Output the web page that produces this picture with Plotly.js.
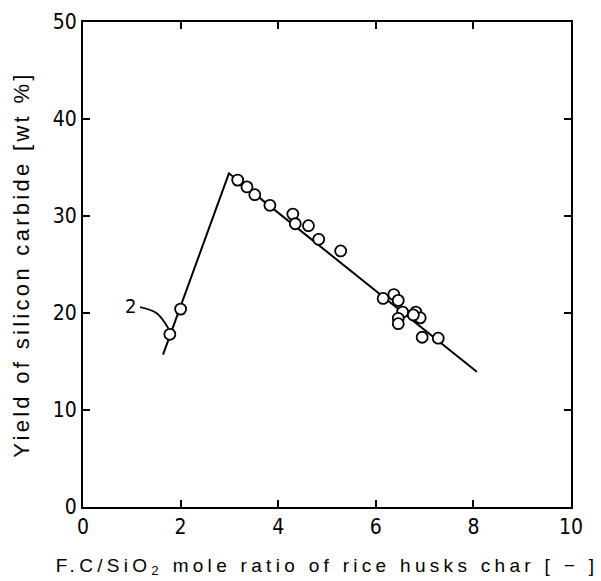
<!DOCTYPE html>
<html>
<head>
<meta charset="utf-8">
<script src="https://cdn.plot.ly/plotly-3.0.1.min.js"></script>
<style>
html, body { margin: 0; padding: 0; background: #fff; }
#chart { width: 601px; height: 581px; }
.xtitle { letter-spacing: 4.3px; }
.ytitle { letter-spacing: 3.3px; }
</style>
</head>
<body>
<div id="chart"></div>
<script>
// Fitted lines
var lineX = [1.64, 2.99, 8.07];
var lineY = [15.7, 34.4, 13.95];

// Measured points
var pointX = [1.78, 2.00, 3.17, 3.36, 3.52, 3.83, 4.30, 4.35, 4.62, 4.83, 5.28,
              6.15, 6.37, 6.46, 6.55, 6.46, 6.46, 6.82, 6.91, 6.77, 6.95, 7.28];
var pointY = [17.8, 20.4, 33.7, 33.0, 32.2, 31.1, 30.2, 29.2, 29.0, 27.6, 26.4,
              21.5, 21.9, 21.3, 20.1, 19.45, 18.9, 20.1, 19.5, 19.8, 17.5, 17.4];

// Leader curve for label "2"
var leaderX = [1.17, 1.51, 1.75];
var leaderY = [20.6, 19.97, 18.4];
var labelText = "2";
var labelX = 0.98, labelY = 20.7;

var xTicks = [0, 2, 4, 6, 8, 10];
var yTicks = [0, 10, 20, 30, 40, 50];

var tickFont = {family: "Liberation Sans Narrow, DejaVu Sans Condensed, Liberation Sans, sans-serif", size: 21, color: "#000"};

var traces = [
  {x: lineX, y: lineY, mode: "lines", line: {color: "#000", width: 2}, hoverinfo: "skip", showlegend: false},
  {x: leaderX, y: leaderY, mode: "lines", line: {color: "#000", width: 1.8, shape: "spline"}, hoverinfo: "skip", showlegend: false},
  {x: pointX, y: pointY, mode: "markers", marker: {symbol: "circle", size: 11, color: "#fff", line: {color: "#000", width: 1.8}}, showlegend: false}
];

var layout = {
  width: 601, height: 581,
  margin: {l: 83, r: 30, t: 22, b: 74},
  paper_bgcolor: "#fff", plot_bgcolor: "#fff",
  showlegend: false,
  xaxis: {
    range: [0, 10], tickvals: xTicks, ticktext: xTicks.map(String),
    showgrid: false, zeroline: false, showline: true, linecolor: "#000", linewidth: 2,
    mirror: "ticks", ticks: "inside", ticklen: 7, tickwidth: 2, tickcolor: "#000",
    tickfont: tickFont,
    title: {text: "F.C/SiO<sub>2</sub> mole ratio of rice husks char [ \u2212 ]", font: {family: "Liberation Sans, Arial, sans-serif", size: 19, color: "#000"}, standoff: 20}
  },
  yaxis: {
    range: [0, 50], tickvals: yTicks, ticktext: yTicks.map(String),
    showgrid: false, zeroline: false, showline: true, linecolor: "#000", linewidth: 2,
    mirror: "ticks", ticks: "inside", ticklen: 7, tickwidth: 2, tickcolor: "#000",
    tickfont: tickFont,
    title: {text: "Yield of silicon carbide [wt %]", font: {family: "Liberation Sans, Arial, sans-serif", size: 22, color: "#000"}, standoff: 17}
  },
  annotations: [
    {x: labelX, y: labelY, xref: "x", yref: "y", text: labelText, showarrow: false,
     font: {family: "Liberation Sans Narrow, DejaVu Sans Condensed, Liberation Sans, sans-serif", size: 20, color: "#000"}}
  ]
};

Plotly.newPlot("chart", traces, layout, {displayModeBar: false, staticPlot: true});
</script>
</body>
</html>
